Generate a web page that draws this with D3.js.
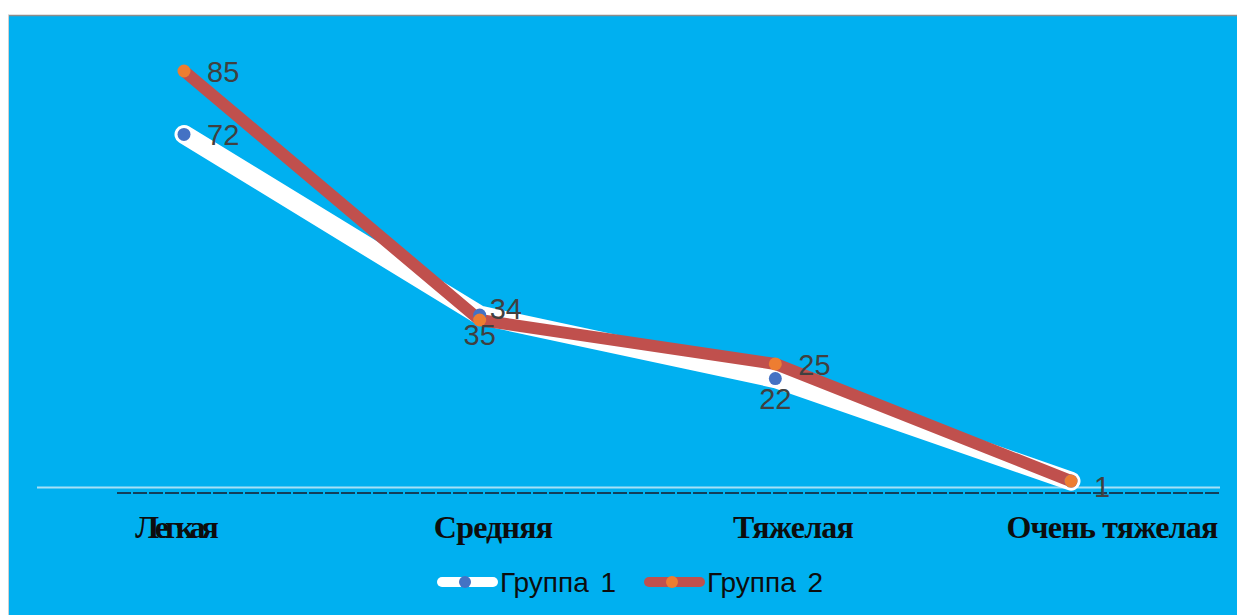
<!DOCTYPE html>
<html>
<head>
<meta charset="utf-8">
<script src="https://cdn.jsdelivr.net/npm/d3@7/dist/d3.min.js"></script>
<style>
  html, body { margin: 0; padding: 0; background: #ffffff; }
  svg { display: block; }
</style>
</head>
<body>
<script>
// Severity categories and the two groups' values
const categories = ["Легкая", "Средняя", "Тяжелая", "Очень тяжелая"];
const group1 = [72, 35, 22, 1];
const group2 = [85, 34, 25, 1];
const seriesNames = ["Группа 1", "Группа 2"];
// where each value label sits relative to its point ("none": hidden behind the other series' label)
const group1LabelPos = ["right", "below", "below", "none"];
const group2LabelPos = ["right", "upright", "right", "lowright"];

const W = 1237, H = 615;
const svg = d3.select("body").append("svg").attr("width", W).attr("height", H);

// panel
svg.append("rect").attr("x", 8).attr("y", 15).attr("width", W - 8).attr("height", H - 15)
  .attr("fill", "#00B0F0");
svg.append("line").attr("x1", 8).attr("x2", W).attr("y1", 15.5).attr("y2", 15.5)
  .attr("stroke", "#8c8c8c").attr("stroke-width", 1.5);
svg.append("line").attr("x1", 8.5).attr("x2", 8.5).attr("y1", 15).attr("y2", H)
  .attr("stroke", "#d0d0d0").attr("stroke-width", 1);

const x = d3.scalePoint().domain(categories).range([184, 1071]);
const y = d3.scaleLinear().domain([0, 85]).range([486, 71]);
// category captions sit slightly off the data points
const xLabel = d3.scaleOrdinal().domain(categories).range([175, 493, 793, 1112]);

// axis lines
svg.append("line").attr("x1", 37).attr("x2", 1220).attr("y1", y(0) + 1.5).attr("y2", y(0) + 1.5)
  .attr("stroke", "#a6e0f6").attr("stroke-width", 2);
svg.append("line").attr("x1", 117).attr("x2", 1221).attr("y1", 493).attr("y2", 493)
  .attr("stroke", "#1a1a2a").attr("stroke-width", 1.3).attr("stroke-dasharray", "14,2");

// category labels
svg.append("g").selectAll("text").data(categories).join("text")
  .attr("x", d => xLabel(d))
  .attr("y", 538)
  .attr("text-anchor", "middle")
  .attr("font-family", "'Liberation Serif', 'Times New Roman', serif")
  .attr("font-weight", "bold")
  .attr("font-size", 32)
  .attr("letter-spacing", d => d === "Легкая" ? -4 : -0.8)
  .attr("fill", "#0d0d0d")
  .text(d => d);

const line = d3.line().x((d, i) => x(categories[i])).y(d => y(d));

const series = [
  { name: seriesNames[0], values: group1, stroke: "#ffffff", width: 19, dot: "#4472C4", labels: group1LabelPos },
  { name: seriesNames[1], values: group2, stroke: "#C0504D", width: 12, dot: "#ED7D31", labels: group2LabelPos }
];

series.forEach(s => {
  svg.append("path").datum(s.values)
    .attr("d", line)
    .attr("fill", "none")
    .attr("stroke", s.stroke)
    .attr("stroke-width", s.width)
    .attr("stroke-linecap", "round")
    .attr("stroke-linejoin", "round");
});

series.forEach(s => {
  svg.append("g").selectAll("circle").data(s.values).join("circle")
    .attr("cx", (d, i) => x(categories[i]))
    .attr("cy", d => y(d))
    .attr("r", 6.5)
    .attr("fill", s.dot);
});

const labelDx = { right: 23, upright: 10, lowright: 23, below: 0 };
const labelDy = { right: 11, upright: -1, lowright: 16, below: 30 };
series.forEach(s => {
  const shown = s.values.map((v, i) => ({ v, i })).filter(d => s.labels[d.i] !== "none");
  svg.append("g").selectAll("text").data(shown).join("text")
    .attr("x", d => x(categories[d.i]) + labelDx[s.labels[d.i]])
    .attr("y", d => y(d.v) + labelDy[s.labels[d.i]])
    .attr("text-anchor", d => s.labels[d.i] === "below" ? "middle" : "start")
    .attr("font-family", "'Liberation Sans', Arial, sans-serif")
    .attr("font-size", 29)
    .attr("fill", "#404040")
    .text(d => d.v);
});

// legend
const legend = svg.append("g");
const legendX = [437, 644];
series.forEach((s, i) => {
  const lx = legendX[i], ly = 582;
  legend.append("line").attr("x1", lx + 5).attr("x2", lx + 56).attr("y1", ly).attr("y2", ly)
    .attr("stroke", s.stroke).attr("stroke-width", 10).attr("stroke-linecap", "round");
  legend.append("circle").attr("cx", lx + 28).attr("cy", ly).attr("r", 6).attr("fill", s.dot);
  legend.append("text").attr("x", lx + 63).attr("y", ly + 10)
    .attr("font-family", "'Liberation Sans', Arial, sans-serif")
    .attr("font-size", 28)
    .attr("word-spacing", 4)
    .attr("fill", "#0d0d0d")
    .text(s.name);
});
</script>
</body>
</html>
